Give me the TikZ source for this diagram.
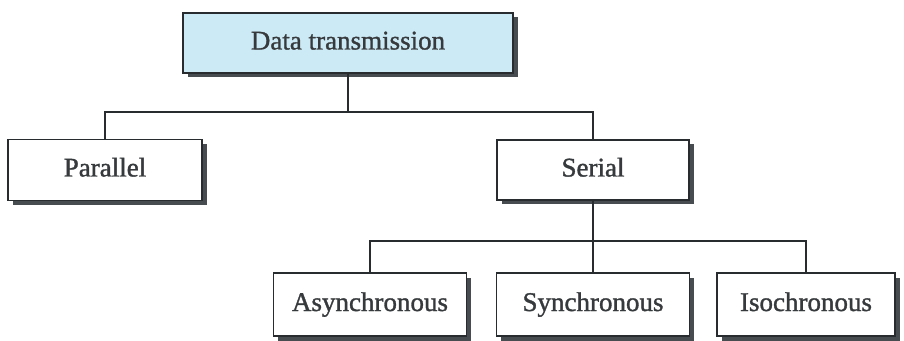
\documentclass[tikz,border=0pt]{standalone}
\usepackage{fontspec}
\setmainfont{Liberation Serif}[FakeBold=1.2]
\usetikzlibrary{shadows}
\definecolor{boxline}{RGB}{40,44,46}
\definecolor{shade}{RGB}{70,76,80}
\definecolor{headfill}{RGB}{204,234,246}
\definecolor{txt}{RGB}{55,58,60}
\begin{document}
\begin{tikzpicture}[x=1pt,y=1pt,
  box/.style={draw=boxline, line width=1.8pt, fill=white,
    minimum height=61pt, inner sep=0pt, text=txt,
    text height=19pt, text depth=6pt,
    font=\fontsize{27}{32}\selectfont,
    drop shadow={shadow xshift=4.5pt, shadow yshift=-4.5pt, fill=shade, opacity=1}},
  link/.style={draw=boxline, line width=1.8pt}]
\useasboundingbox (0,0) rectangle (904,340);

% root and second level
\node[box, fill=headfill, minimum width=330pt, minimum height=60pt] (root) at (348,297) {Data transmission};
\node[box, minimum width=194pt] (par) at (105,170) {Parallel};
\node[box, minimum width=192pt, minimum height=60pt] (ser) at (593,170) {Serial};

% third level
\node[box, minimum width=193pt, minimum height=63pt] (asy) at (370,35.5) {Asynchronous};
\node[box, minimum width=193pt, minimum height=63pt] (syn) at (593,35.5) {Synchronous};
\node[box, minimum width=178pt, minimum height=63pt] (iso) at (806,35.5) {Isochronous};

% connectors
\coordinate (j1) at (root.south |- 0,228);
\coordinate (j2) at (ser.south |- 0,99);
\draw[link] (root.south) -- (j1);
\draw[link] (par.north) |- (j1) -| (ser.north);
\draw[link] (ser.south) -- (j2);
\draw[link] (asy.north) |- (j2) -| (iso.north);
\draw[link] (j2) -- (syn.north);
\end{tikzpicture}
\end{document}
